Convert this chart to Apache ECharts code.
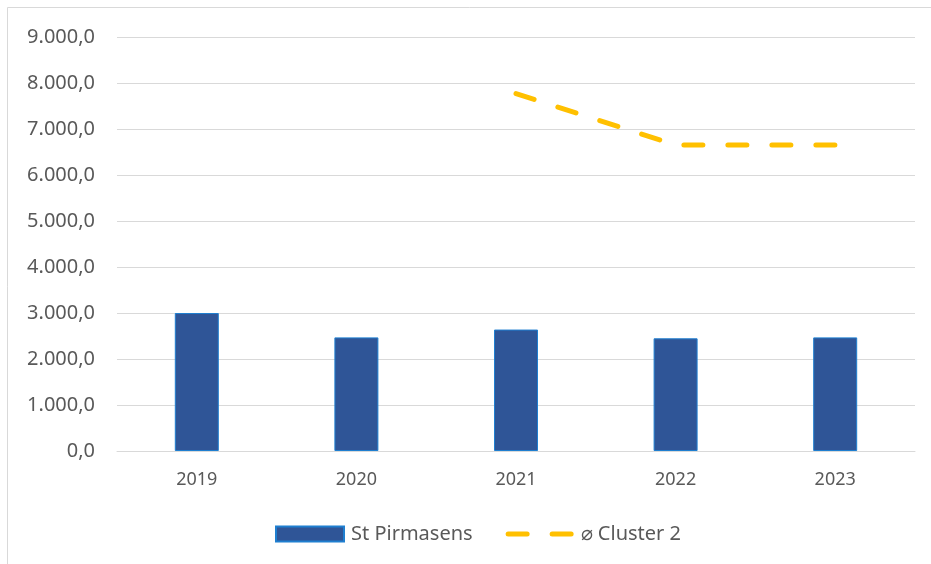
<!DOCTYPE html>
<html>
<head>
<meta charset="utf-8">
<script src="https://cdn.jsdelivr.net/npm/echarts@6/dist/echarts.min.js"></script>
<style>
  html, body { margin: 0; padding: 0; background: #fff; }
  #chart { width: 931px; height: 564px; }
</style>
</head>
<body>
<div id="chart"></div>
<script>
// Kategorien und Werte
var years = ['2019', '2020', '2021', '2022', '2023'];
var pirmasens = [3000, 2470, 2640, 2450, 2470];
var cluster2 = [null, null, 7770, 6650, 6650];
var barName = 'St Pirmasens';
var lineName = '\u2300 Cluster 2';

function formatDe(value) {
    // 9000 -> 9.000,0
    var parts = value.toFixed(1).split('.');
    var intPart = parts[0].replace(/\B(?=(\d{3})+(?!\d))/g, '.');
    return intPart + ',' + parts[1];
}

// zwei gestrichelte Segmente als Legendensymbol (68x15 Box)
var dashIcon = 'path://M0 0M68 15' +
    'M2.5 5H21.5A2.5 2.5 0 0 1 21.5 10H2.5A2.5 2.5 0 0 1 2.5 5Z' +
    'M46.5 5H65.5A2.5 2.5 0 0 1 65.5 10H46.5A2.5 2.5 0 0 1 46.5 5Z';

var chartDom = document.getElementById('chart');
var myChart = echarts.init(chartDom);
var fontFam = '"Noto Sans", "Open Sans", sans-serif';

var option = {
    backgroundColor: '#ffffff',
    animation: false,
    textStyle: { fontFamily: fontFam },
    graphic: [{
        type: 'rect',
        shape: { x: 7.5, y: 7.5, width: 940, height: 580 },
        style: { fill: 'none', stroke: '#d9d9d9', lineWidth: 1 },
        silent: true
    }],
    grid: {
        left: 117,
        right: 16,
        top: 37,
        bottom: 113
    },
    legend: {
        left: 275,
        top: 524,
        padding: 0,
        itemWidth: 68,
        itemHeight: 15,
        itemGap: 33,
        textStyle: { color: '#595959', fontSize: 20, fontFamily: fontFam, padding: [0, 0, 0, 2] },
        data: [
            { name: barName, icon: 'rect' },
            { name: lineName, icon: dashIcon, itemStyle: { color: '#ffc000', borderWidth: 0 } }
        ]
    },
    xAxis: {
        type: 'category',
        data: years,
        axisLine: { lineStyle: { color: '#d9d9d9', width: 1 } },
        axisTick: { show: false },
        axisLabel: { color: '#595959', fontSize: 18, margin: 20 }
    },
    yAxis: {
        type: 'value',
        min: 0,
        max: 9000,
        interval: 1000,
        axisLine: { show: false },
        axisTick: { show: false },
        splitLine: { lineStyle: { color: '#d9d9d9', width: 1 } },
        axisLabel: {
            color: '#595959',
            fontSize: 20,
            margin: 22,
            formatter: function (value) { return formatDe(value); }
        }
    },
    series: [
        {
            name: barName,
            type: 'bar',
            data: pirmasens,
            barWidth: 44,
            itemStyle: {
                color: '#2f5597',
                borderColor: '#1f7fd0',
                borderWidth: 1
            }
        },
        {
            name: lineName,
            type: 'line',
            data: cluster2,
            symbol: 'none',
            connectNulls: false,
            lineStyle: {
                color: '#ffc000',
                width: 5,
                type: [19, 25],
                cap: 'round'
            },
            itemStyle: { color: '#ffc000' }
        }
    ]
};

myChart.setOption(option, true);
myChart.resize();
</script>
</body>
</html>
